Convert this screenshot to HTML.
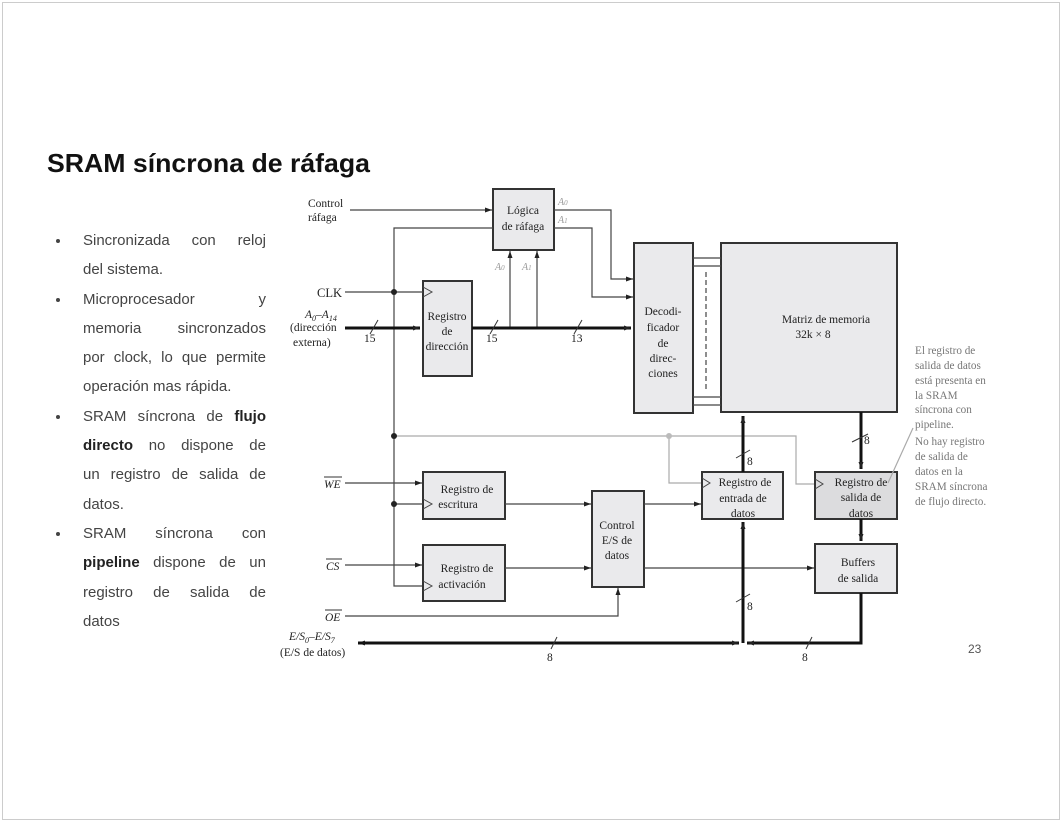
<!DOCTYPE html>
<html><head><meta charset="utf-8"><style>
html,body{margin:0;padding:0;background:#fff}
svg{display:block}
.s{font-family:"Liberation Serif",serif;fill:#222}
#bl{position:absolute;left:83px;top:226px;width:183px;font-family:"Liberation Sans",sans-serif;font-size:15px;line-height:29.3px;color:#444;margin:0;padding:0}
#bl div{white-space:nowrap;height:29.3px}
#bl .j{text-align:justify;text-align-last:justify;white-space:normal}
#bl .d{position:relative}
#bl .d::before{content:"";position:absolute;left:-27px;top:13px;width:4px;height:4px;border-radius:2px;background:#444}
#bl b{color:#222}
</style></head><body>
<div id="bl">
<div class="j d">Sincronizada con reloj</div>
<div>del sistema.</div>
<div class="j d">Microprocesador y</div>
<div class="j">memoria sincronzados</div>
<div class="j">por clock, lo que permite</div>
<div>operación mas rápida.</div>
<div class="j d">SRAM síncrona de <b>flujo</b></div>
<div class="j"><b>directo</b> no dispone de</div>
<div class="j">un registro de salida de</div>
<div>datos.</div>
<div class="j d">SRAM síncrona con</div>
<div class="j"><b>pipeline</b> dispone de un</div>
<div class="j">registro de salida de</div>
<div>datos</div>
</div>
<svg width="1062" height="822" viewBox="0 0 1062 822" xmlns="http://www.w3.org/2000/svg">
<defs>
<marker id="a" markerWidth="8" markerHeight="8" refX="7" refY="4" orient="auto" markerUnits="userSpaceOnUse"><path d="M0,1.5 L7,4 L0,6.5z" fill="#222"/></marker>
</defs>
<rect x="2.5" y="2.5" width="1057" height="817" fill="none" stroke="#ccc"/>
<text x="47" y="172" font-family="Liberation Sans,sans-serif" font-weight="bold" font-size="26" fill="#111" textLength="323" lengthAdjust="spacingAndGlyphs">SRAM síncrona de ráfaga</text>

<g stroke="#333" stroke-width="2" fill="#eaeaec">
<rect x="493" y="189" width="61" height="61"/>
<rect x="423" y="281" width="49" height="95"/>
<rect x="634" y="243" width="59" height="170"/>
<rect x="721" y="243" width="176" height="169"/>
<rect x="423" y="472" width="82" height="47"/>
<rect x="423" y="545" width="82" height="56"/>
<rect x="592" y="491" width="52" height="96"/>
<rect x="702" y="472" width="81" height="47"/>
<rect x="815" y="472" width="82" height="47" fill="#dcdcde"/>
<rect x="815" y="544" width="82" height="49"/>
</g>

<g stroke="#444" stroke-width="1.2" fill="none">
<line x1="350" y1="210" x2="492" y2="210" marker-end="url(#a)"/>
<polyline points="493,228 394,228 394,586 422,586"/>
<line x1="345" y1="292" x2="423" y2="292"/>
<line x1="510" y1="328" x2="510" y2="251" marker-end="url(#a)"/>
<line x1="537" y1="328" x2="537" y2="251" marker-end="url(#a)"/>
<polyline points="554,210 611,210 611,279 633,279" marker-end="url(#a)"/>
<polyline points="554,228 592,228 592,297 633,297" marker-end="url(#a)"/>
<line x1="693" y1="258" x2="721" y2="258"/><line x1="693" y1="266" x2="721" y2="266"/>
<line x1="693" y1="397" x2="721" y2="397"/><line x1="693" y1="405" x2="721" y2="405"/>
<line x1="706" y1="272" x2="706" y2="392" stroke-dasharray="5,3"/>
<line x1="345" y1="483" x2="422" y2="483" marker-end="url(#a)"/>
<line x1="394" y1="504" x2="423" y2="504"/>
<line x1="345" y1="565" x2="422" y2="565" marker-end="url(#a)"/>
<line x1="505" y1="504" x2="591" y2="504" marker-end="url(#a)"/>
<line x1="505" y1="568" x2="591" y2="568" marker-end="url(#a)"/>
<line x1="644" y1="504" x2="701" y2="504" marker-end="url(#a)"/>
<line x1="644" y1="568" x2="814" y2="568" marker-end="url(#a)"/>
<polyline points="345,616 618,616 618,588" marker-end="url(#a)"/>
</g>
<g stroke="#444" stroke-width="1" fill="none">
<polyline points="423,287 432,292 423,297"/>
<polyline points="423,499 432,504 423,509"/>
<polyline points="423,581 432,586 423,591"/>
<polyline points="702,478 710,483 702,488"/>
<polyline points="815,479 823,484 815,489"/>
</g>
<g stroke="#aaa" stroke-width="1.2" fill="none">
<polyline points="394,436 796,436 796,484 814,484"/>
<polyline points="669,436 669,483 701,483"/>
<line x1="913" y1="428" x2="888" y2="483"/>
</g>
<circle cx="669" cy="436" r="3" fill="#bbb"/>
<g fill="#222"><circle cx="394" cy="292" r="3"/><circle cx="394" cy="436" r="3"/><circle cx="394" cy="504" r="3"/></g>

<g stroke="#111" stroke-width="3" fill="none">
<line x1="345" y1="328" x2="420" y2="328" marker-end="url(#a)"/>
<line x1="472" y1="328" x2="631" y2="328" marker-end="url(#a)"/>
<line x1="743" y1="643" x2="743" y2="522" marker-end="url(#a)"/>
<line x1="743" y1="472" x2="743" y2="416" marker-end="url(#a)"/>
<line x1="861" y1="412" x2="861" y2="469" marker-end="url(#a)"/>
<line x1="861" y1="519" x2="861" y2="541" marker-end="url(#a)"/>
<polyline points="861,593 861,643 747,643" marker-end="url(#a)"/>
<line x1="739" y1="643" x2="358" y2="643" marker-end="url(#a)"/>
<line x1="358" y1="643" x2="739" y2="643" marker-end="url(#a)"/>
</g>
<g stroke="#333" stroke-width="1">
<line x1="370" y1="334" x2="378" y2="320"/><line x1="490" y1="334" x2="498" y2="320"/>
<line x1="574" y1="334" x2="582" y2="320"/><line x1="736" y1="458" x2="750" y2="450"/>
<line x1="852" y1="442" x2="868" y2="434"/><line x1="736" y1="602" x2="750" y2="594"/>
<line x1="551" y1="649" x2="557" y2="637"/><line x1="806" y1="649" x2="812" y2="637"/>
</g>

<g class="s" font-size="11.5">
<text x="308" y="207">Control</text><text x="308" y="221">ráfaga</text>
<text x="317" y="297" font-size="12.5">CLK</text>
<text x="305" y="318" font-style="italic">A<tspan font-size="8" dy="3">0</tspan><tspan dy="-3">–A</tspan><tspan font-size="8" dy="3">14</tspan></text>
<text x="290" y="331">(dirección</text><text x="293" y="346">externa)</text>
<text x="364" y="342">15</text><text x="486" y="342">15</text><text x="571" y="342">13</text>
<g text-anchor="middle">
<text x="523" y="214">Lógica</text><text x="523" y="230">de ráfaga</text>
<text x="447" y="320">Registro</text><text x="447" y="335">de</text><text x="447" y="350">dirección</text>
<text x="663" y="315">Decodi-</text><text x="663" y="331">ficador</text><text x="663" y="347">de</text><text x="663" y="362">direc-</text><text x="663" y="377">ciones</text>
<text x="826" y="323">Matriz de memoria</text><text x="813" y="338">32k × 8</text>
<text x="467" y="493">Registro de</text><text x="458" y="508">escritura</text>
<text x="467" y="572">Registro de</text><text x="462" y="588">activación</text>
<text x="617" y="529">Control</text><text x="617" y="544">E/S de</text><text x="617" y="559">datos</text>
<text x="745" y="486">Registro de</text><text x="743" y="502">entrada de</text><text x="743" y="517">datos</text>
<text x="861" y="486">Registro de</text><text x="861" y="501">salida de</text><text x="861" y="517">datos</text>
<text x="858" y="566">Buffers</text><text x="858" y="582">de salida</text>
</g>
<g fill="#999" font-style="italic" font-size="10"><text x="558" y="205">A<tspan font-size="7">0</tspan></text><text x="558" y="223">A<tspan font-size="7">1</tspan></text><text x="495" y="270">A<tspan font-size="7">0</tspan></text><text x="522" y="270">A<tspan font-size="7">1</tspan></text></g>
<text x="324" y="488" font-style="italic">WE</text><line x1="324" y1="477" x2="342" y2="477" stroke="#333"/>
<text x="326" y="570" font-style="italic">CS</text><line x1="326" y1="559" x2="342" y2="559" stroke="#333"/>
<text x="325" y="621" font-style="italic">OE</text><line x1="325" y1="610" x2="342" y2="610" stroke="#333"/>
<text x="289" y="640" font-style="italic">E/S<tspan font-size="8" dy="3">0</tspan><tspan dy="-3">–E/S</tspan><tspan font-size="8" dy="3">7</tspan></text>
<text x="280" y="656">(E/S de datos)</text>
<text x="547" y="661">8</text><text x="802" y="661">8</text><text x="747" y="610">8</text><text x="747" y="465">8</text><text x="864" y="444">8</text>
</g>
<g class="s" font-size="11.2" style="fill:#777">
<text x="915" y="354">El registro de</text><text x="915" y="369">salida de datos</text><text x="915" y="384">está presenta en</text><text x="915" y="399">la SRAM</text><text x="915" y="413">síncrona con</text><text x="915" y="428">pipeline.</text>
<text x="915" y="445">No hay registro</text><text x="915" y="460">de salida de</text><text x="915" y="475">datos en la</text><text x="915" y="490">SRAM síncrona</text><text x="915" y="505">de flujo directo.</text>
</g>
<text x="968" y="653" font-family="Liberation Sans,sans-serif" font-size="12" fill="#555">23</text>
</svg>
</body></html>
